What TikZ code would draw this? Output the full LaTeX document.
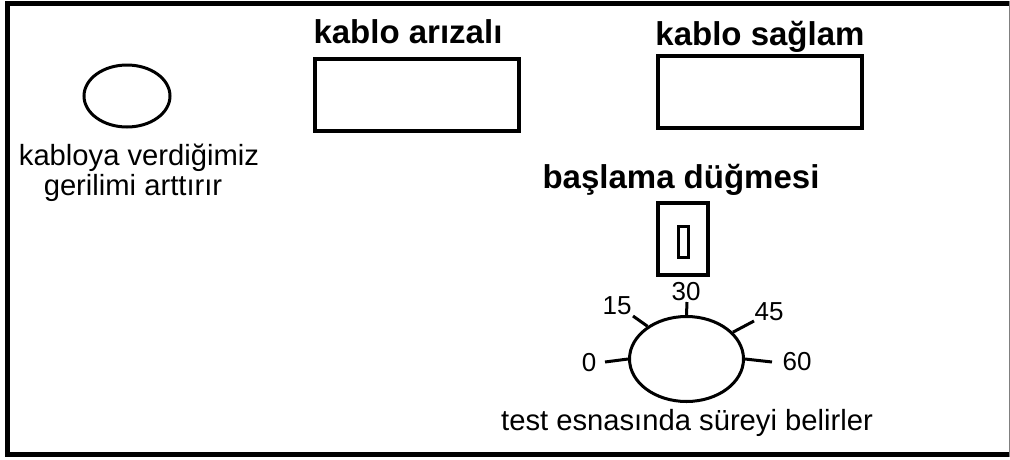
\documentclass[tikz,border=0pt]{standalone}
\usepackage{fontspec}
\setmainfont{Liberation Sans}
\usetikzlibrary{shapes.geometric}
\begin{document}
\begin{tikzpicture}[x=1pt,y=-1pt,
  lbl/.style={inner sep=0pt,font=\fontsize{29.2}{32}\selectfont,anchor=base},
  blbl/.style={inner sep=0pt,font=\fontsize{33}{36}\selectfont\bfseries,anchor=base},
  num/.style={inner sep=0pt,font=\fontsize{26}{28}\selectfont},
  lamp/.style={draw,line width=4pt,inner sep=0pt,minimum width=204pt,minimum height=72pt},
  oval/.style={draw,ellipse,line width=3pt,inner sep=0pt},
  tick/.style={line width=3pt}]
\useasboundingbox (0,0) rectangle (1010,459);
% frame
\draw[line width=5pt] (1009,3.5) -- (7.5,3.5) -- (7.5,454.5) -- (1009,454.5);
\draw[line width=1pt,gray] (1009.5,1) -- (1009.5,457);
% left knob
\node[oval,minimum width=86pt,minimum height=62pt] (knob) at (127,96) {};
\node[lbl] (t1) at (139,165) {kabloya verdiğimiz};
\node[lbl] (t2) at (133,195) {gerilimi arttırır};
% indicator boxes
\node[blbl] (la) at (408,43) {kablo arızalı};
\node[lamp] (ba) at (417,95) {};
\node[blbl] (ls) at (760,45) {kablo sağlam};
\node[lamp] (bs) at (760,92) {};
% start button
\node[blbl] (lb) at (681,188) {başlama düğmesi};
\node[draw,line width=4pt,inner sep=0pt,minimum width=50pt,minimum height=72pt] (btn) at (683,239) {};
\node[draw,line width=3pt,inner sep=0pt,minimum width=10pt,minimum height=31pt] (bi) at (683,241.5) {};
% dial
\node[oval,minimum width=114pt,minimum height=85pt] (dial) at (686.5,359) {};
\coordinate (c0) at (605,362);
\coordinate (c15) at (633,316);
\coordinate (c30) at (687,302);
\coordinate (c45) at (754,321);
\coordinate (c60) at (772,362);
\draw[tick] (dial.west) -- (c0);
\draw[tick] (dial.140) -- (c15);
\draw[tick] (dial.north) -- (c30);
\draw[tick] (dial.30) -- (c45);
\draw[tick] (dial.east) -- (c60);
\node[num] (n0) at (589,363) {0};
\node[num] (n15) at (617,306) {15};
\node[num] (n30) at (686,292) {30};
\node[num] (n45) at (769,312) {45};
\node[num] (n60) at (797,362) {60};
\node[lbl] (t3) at (687,430) {test esnasında süreyi belirler};
\end{tikzpicture}
\end{document}
